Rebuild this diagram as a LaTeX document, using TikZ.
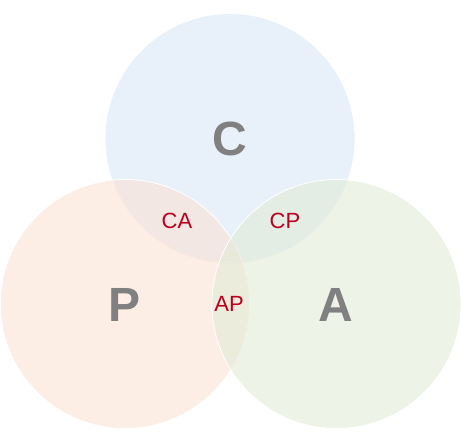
\documentclass[tikz,border=0pt]{standalone}
\usepackage{fontspec}
\setmainfont{Liberation Sans}
\definecolor{setC}{RGB}{217,232,245}
\definecolor{setP}{RGB}{250,225,212}
\definecolor{setA}{RGB}{225,235,215}
\definecolor{pairred}{RGB}{185,0,30}
\definecolor{setgray}{RGB}{128,128,128}
\begin{document}
\begin{tikzpicture}[x=1pt, y=-1pt,
    setcircle/.style={draw=white, line width=0.8pt, fill opacity=0.6},
    setlabel/.style={font=\fontsize{48}{48}\selectfont\bfseries, text=setgray, inner sep=0pt},
    pairlabel/.style={font=\fontsize{22}{22}\selectfont, text=pairred, inner sep=0pt}]
    \useasboundingbox (0,0) rectangle (462,443);

    % Kreise
    \fill[setC, setcircle] (230,138.5) circle[radius=125pt];
    \fill[setP, setcircle] (125,304)   circle[radius=124.5pt];
    \fill[setA, setcircle] (336.5,304) circle[radius=124.5pt];

    % Mengen
    \node[setlabel] (labC) at (229.5,138.5) {C};
    \node[setlabel] (labP) at (124.5,304.5) {P};
    \node[setlabel] (labA) at (335.5,304.5) {A};

    % Schnittmengen
    \node[pairlabel] (labCA) at (177,221) {CA};
    \node[pairlabel] (labCP) at (285,221) {CP};
    \node[pairlabel] (labAP) at (229,304) {AP};
\end{tikzpicture}
\end{document}
